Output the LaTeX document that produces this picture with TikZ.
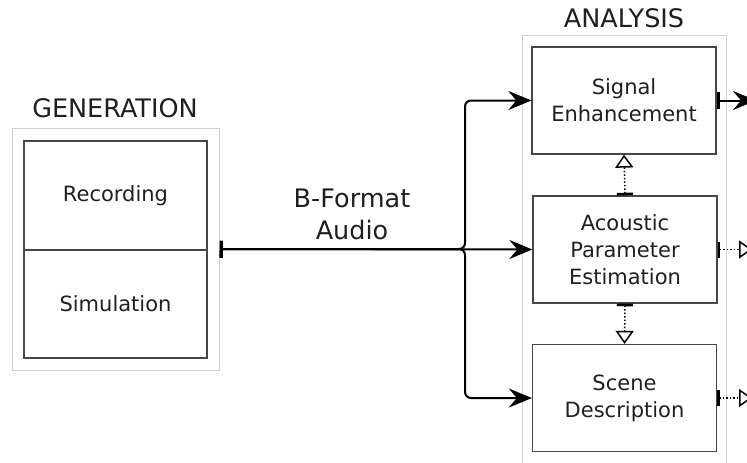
\documentclass[tikz,border=0pt]{standalone}
\usepackage{fontspec}
\setmainfont{DejaVu Sans}
\usetikzlibrary{arrows.meta}

\begin{document}
\begin{tikzpicture}[x=1pt,y=-1pt,
    block/.style={draw=black!72,line width=1.3pt,minimum width=184pt,minimum height=107pt,
      inner sep=0pt,align=center,font=\fontsize{21}{27}\selectfont,text=black!88},
    frame/.style={draw=black!18,line width=1pt,inner sep=0pt},
    title/.style={font=\fontsize{25.5}{32}\selectfont,text=black!88,align=center},
    flow/.style={line width=2pt,{Bar[width=17pt,line width=3pt]}-{Stealth[length=23pt,width=19pt,inset=8pt]}},
    link/.style={line width=1.5pt,dotted,{Bar[width=16pt,line width=2.6pt]}-{Triangle[open,length=13pt,width=18pt,line width=1.5pt]}}]
  \useasboundingbox (0,0) rectangle (747,463);
  \clip (0,0) rectangle (747,463);

  % generation side
  \node[frame,minimum width=207pt,minimum height=242pt] (gen) at (115.5,249) {};
  \node[title] (gentitle) at (115,108) {GENERATION};
  \node[block,minimum width=183pt,minimum height=109pt] (rec) at (115.5,195.5) {Recording};
  \node[block,minimum width=183pt,minimum height=108pt] (sim) at (115.5,304) {Simulation};

  % analysis side
  \draw[frame] (522,35) rectangle (726,480);
  \node[title] (anatitle) at (624,18) {ANALYSIS};
  \node[block] (se) at (624,100.5) {Signal\\Enhancement};
  \node[block] (ape) at (625,249.5) {Acoustic\\Parameter\\Estimation};
  \node[block] (sd) at (624.5,398) {Scene\\Description};

  \node[title] (bformat) at (352,214) {B-Format\\Audio};

  \coordinate (seout) at (756,100.5);
  \coordinate (apeout) at (752,249.5);
  \coordinate (sdout) at (752,398);

  % signal paths
  \begin{scope}[rounded corners=6pt]
    \draw[flow] (gen.east) -- (465,249) |- (se.west);
    \draw[flow] (gen.east) -- (465,249) |- (sd.west);
  \end{scope}
  \draw[flow] (gen.east) -- (ape.west);
  \draw[flow] (se.east) -- (seout);

  % parameter links
  \draw[link] (ape.north) -- (se.south);
  \draw[link] (ape.south) -- (sd.north);
  \draw[link] (ape.east) -- (apeout);
  \draw[link] (sd.east) -- (sdout);
\end{tikzpicture}
\end{document}
